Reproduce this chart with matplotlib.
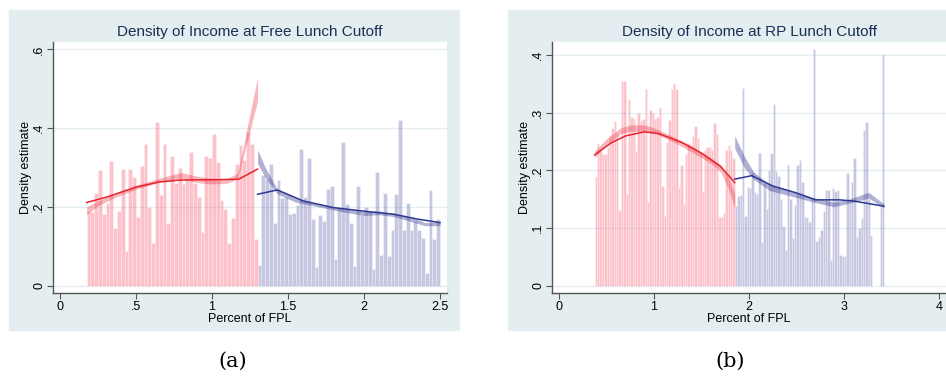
import matplotlib.pyplot as plt
from matplotlib.patches import Rectangle
import numpy as np

plt.rcParams['font.family'] = ['Liberation Sans', 'DejaVu Sans']

# ---- Free lunch cutoff (panel a) ----
free_start = 0.175
free_cut = 1.3
free_width = 0.025
free_below = [0.19, 0.188, 0.234, 0.294, 0.182, 0.21, 0.316, 0.146, 0.19, 0.297,
              0.087, 0.297, 0.275, 0.174, 0.305, 0.36, 0.20, 0.109, 0.415, 0.23,
              0.361, 0.16, 0.33, 0.26, 0.30, 0.257, 0.27, 0.34, 0.26, 0.226,
              0.135, 0.328, 0.324, 0.384, 0.315, 0.217, 0.195, 0.108, 0.171, 0.308,
              0.357, 0.32, 0.39, 0.36, 0.118]
free_above = [0.052, 0.281, 0.27, 0.309, 0.158, 0.268, 0.222, 0.224, 0.182, 0.184,
              0.205, 0.347, 0.226, 0.323, 0.169, 0.048, 0.178, 0.164, 0.245, 0.254,
              0.067, 0.199, 0.365, 0.207, 0.158, 0.05, 0.253, 0.18, 0.2, 0.19,
              0.043, 0.288, 0.078, 0.234, 0.074, 0.14, 0.233, 0.42, 0.141, 0.209,
              0.141, 0.165, 0.141, 0.12, 0.032, 0.244, 0.117, 0.17]

free_fit_lo_x = [0.175, 0.3, 0.5, 0.65, 0.79, 1.0, 1.175, 1.3]
free_fit_lo_y = [0.211, 0.224, 0.25, 0.263, 0.268, 0.269, 0.27, 0.296]
free_ci_lo_x = [0.175, 0.25, 0.35, 0.5, 0.65, 0.75, 0.8, 0.9, 1.0, 1.1, 1.17, 1.3]
free_ci_lo_a = [0.18, 0.203, 0.222, 0.245, 0.262, 0.27, 0.272, 0.262, 0.258, 0.26, 0.272, 0.47]
free_ci_lo_b = [0.2, 0.215, 0.232, 0.255, 0.272, 0.283, 0.287, 0.278, 0.272, 0.272, 0.286, 0.53]

free_fit_hi_x = [1.3, 1.43, 1.6, 1.8, 2.0, 2.2, 2.35, 2.5]
free_fit_hi_y = [0.232, 0.243, 0.215, 0.198, 0.189, 0.181, 0.169, 0.16]
free_ci_hi_x = [1.3, 1.35, 1.43, 1.55, 1.7, 1.85, 2.0, 2.1, 2.2, 2.35, 2.4, 2.5]
free_ci_hi_a = [0.31, 0.275, 0.233, 0.212, 0.2, 0.188, 0.178, 0.18, 0.175, 0.158, 0.152, 0.152]
free_ci_hi_b = [0.345, 0.3, 0.245, 0.222, 0.208, 0.196, 0.188, 0.19, 0.183, 0.168, 0.16, 0.162]

# ---- Reduced price lunch cutoff (panel b) ----
rp_start = 0.375
rp_cut = 1.85
rp_width = 0.025
rp_below = [0.188, 0.247, 0.233, 0.229, 0.229, 0.24, 0.262, 0.274, 0.286, 0.265,
            0.131, 0.355, 0.356, 0.159, 0.324, 0.293, 0.29, 0.234, 0.30, 0.285,
            0.29, 0.341, 0.146, 0.305, 0.30, 0.29, 0.292, 0.311, 0.173, 0.121,
            0.25, 0.288, 0.341, 0.351, 0.341, 0.17, 0.21, 0.142, 0.229, 0.247,
            0.245, 0.26, 0.277, 0.256, 0.23, 0.164, 0.236, 0.24, 0.241, 0.236,
            0.282, 0.264, 0.119, 0.12, 0.126, 0.236, 0.244, 0.236, 0.221]
rp_above = [0.139, 0.156, 0.157, 0.344, 0.121, 0.171, 0.17, 0.197, 0.162, 0.16,
            0.231, 0.075, 0.179, 0.133, 0.2, 0.23, 0.315, 0.199, 0.19, 0.15,
            0.104, 0.062, 0.209, 0.15, 0.083, 0.14, 0.21, 0.218, 0.18, 0.12,
            0.12, 0.11, 0.15, 0.411, 0.078, 0.085, 0.097, 0.13, 0.166, 0.166,
            0.045, 0.17, 0.165, 0.166, 0.053, 0.052, 0.052, 0.196, 0.15, 0.18,
            0.221, 0.085, 0.1, 0.118, 0.271, 0.284, 0.15, 0.088, 0.0, 0.0,
            0.0, 0.138, 0.403]

rp_fit_lo_x = [0.375, 0.55, 0.7, 0.9, 1.05, 1.3, 1.5, 1.7, 1.85]
rp_fit_lo_y = [0.227, 0.248, 0.26, 0.267, 0.264, 0.248, 0.23, 0.207, 0.179]
rp_ci_lo_x = [0.375, 0.5, 0.65, 0.75, 0.9, 1.0, 1.2, 1.4, 1.6, 1.7, 1.78, 1.85]
rp_ci_lo_a = [0.222, 0.245, 0.264, 0.268, 0.268, 0.265, 0.25, 0.232, 0.212, 0.198, 0.17, 0.135]
rp_ci_lo_b = [0.234, 0.255, 0.274, 0.279, 0.279, 0.274, 0.259, 0.242, 0.222, 0.21, 0.19, 0.16]

rp_fit_hi_x = [1.85, 2.03, 2.25, 2.5, 2.7, 2.95, 3.1, 3.42]
rp_fit_hi_y = [0.185, 0.191, 0.173, 0.161, 0.149, 0.149, 0.147, 0.138]
rp_ci_hi_x = [1.85, 1.95, 2.045, 2.22, 2.5, 2.68, 2.89, 3.05, 3.26, 3.42]
rp_ci_hi_a = [0.238, 0.205, 0.185, 0.165, 0.153, 0.145, 0.137, 0.143, 0.152, 0.135]
rp_ci_hi_b = [0.26, 0.225, 0.198, 0.175, 0.161, 0.153, 0.145, 0.150, 0.162, 0.142]

BG = '#e4eef0'
AXC = '#555555'
TITLE_C = '#1c2d55'


def panel(ax, title, x0, cut, w, below, above,
          fl, ci_l, fh, ci_h, xticks, xlabels, yticks, ylabels, xlim, ylim):
    ax.set_facecolor('white')
    for v in yticks:
        ax.axhline(v, color='#e2eef0', lw=1.0, zorder=0)

    # histogram bars either side of the cutoff
    xb = x0 + w * np.arange(len(below))
    xa = cut + w * np.arange(len(above))
    ax.bar(xb, below, width=w, align='edge', color=(0.97, 0.2, 0.3, 0.3),
           edgecolor=(1, 1, 1, 0.45), lw=0.5, zorder=2)
    ax.bar(xa, above, width=w, align='edge', color=(0.2, 0.2, 0.58, 0.27),
           edgecolor=(1, 1, 1, 0.45), lw=0.5, zorder=2)

    # confidence bands and local fits
    ax.fill_between(ci_l[0], ci_l[1], ci_l[2], color=(0.93, 0.2, 0.25, 0.35), lw=0, zorder=3)
    ax.fill_between(ci_h[0], ci_h[1], ci_h[2], color=(0.2, 0.2, 0.55, 0.38), lw=0, zorder=3)
    ax.plot(fl[0], fl[1], color='#e8232c', lw=1.1, zorder=4)
    ax.plot(fh[0], fh[1], color='#2c3892', lw=1.1, zorder=4)

    ax.set_xlim(*xlim)
    ax.set_ylim(*ylim)
    ax.set_xticks(xticks)
    ax.set_xticklabels(xlabels)
    ax.set_yticks(yticks)
    ax.set_yticklabels(ylabels, rotation=90, va='center')
    ax.tick_params(direction='out', length=4, width=0.8, color=AXC, labelsize=9, pad=1.5)
    for s in ['top', 'right']:
        ax.spines[s].set_visible(False)
    for s in ['left', 'bottom']:
        ax.spines[s].set_color(AXC)
        ax.spines[s].set_linewidth(1.0)
    ax.set_xlabel('Percent of FPL', fontsize=9, labelpad=0)
    ax.set_ylabel('Density estimate', fontsize=9, labelpad=1)
    ax.set_title(title, fontsize=11, color=TITLE_C, pad=4)


fig = plt.figure(figsize=(9.46, 3.79), dpi=100)
W, H = 946, 379
# light panel backgrounds behind each graph
for left in (9, 508):
    fig.add_artist(Rectangle((left / W, 1 - 330 / H), 450 / W, 320 / H,
                             transform=fig.transFigure, color=BG, zorder=-10))

ax1 = fig.add_axes([53 / W, 1 - 293 / H, 394 / W, 251 / H])
ax2 = fig.add_axes([552 / W, 1 - 293 / H, 394 / W, 251 / H])

panel(ax1, 'Density of Income at Free Lunch Cutoff', free_start, free_cut, free_width,
      free_below, free_above,
      (free_fit_lo_x, free_fit_lo_y), (free_ci_lo_x, free_ci_lo_a, free_ci_lo_b),
      (free_fit_hi_x, free_fit_hi_y), (free_ci_hi_x, free_ci_hi_a, free_ci_hi_b),
      [0, 0.5, 1, 1.5, 2, 2.5], ['0', '.5', '1', '1.5', '2', '2.5'],
      [0, 0.2, 0.4, 0.6], ['0', '.2', '.4', '.6'],
      (-0.046, 2.546), (-0.019, 0.619))

panel(ax2, 'Density of Income at RP Lunch Cutoff', rp_start, rp_cut, rp_width,
      rp_below, rp_above,
      (rp_fit_lo_x, rp_fit_lo_y), (rp_ci_lo_x, rp_ci_lo_a, rp_ci_lo_b),
      (rp_fit_hi_x, rp_fit_hi_y), (rp_ci_hi_x, rp_ci_hi_a, rp_ci_hi_b),
      [0, 1, 2, 3, 4], ['0', '1', '2', '3', '4'],
      [0, 0.1, 0.2, 0.3, 0.4], ['0', '.1', '.2', '.3', '.4'],
      (-0.074, 4.074), (-0.0127, 0.423))

fig.text(233 / W, 1 - 361 / H, '(a)', family='DejaVu Serif', fontsize=15,
         ha='center', va='center')
fig.text(730 / W, 1 - 361 / H, '(b)', family='DejaVu Serif', fontsize=15,
         ha='center', va='center')

fig.savefig('out.png', dpi=100)
